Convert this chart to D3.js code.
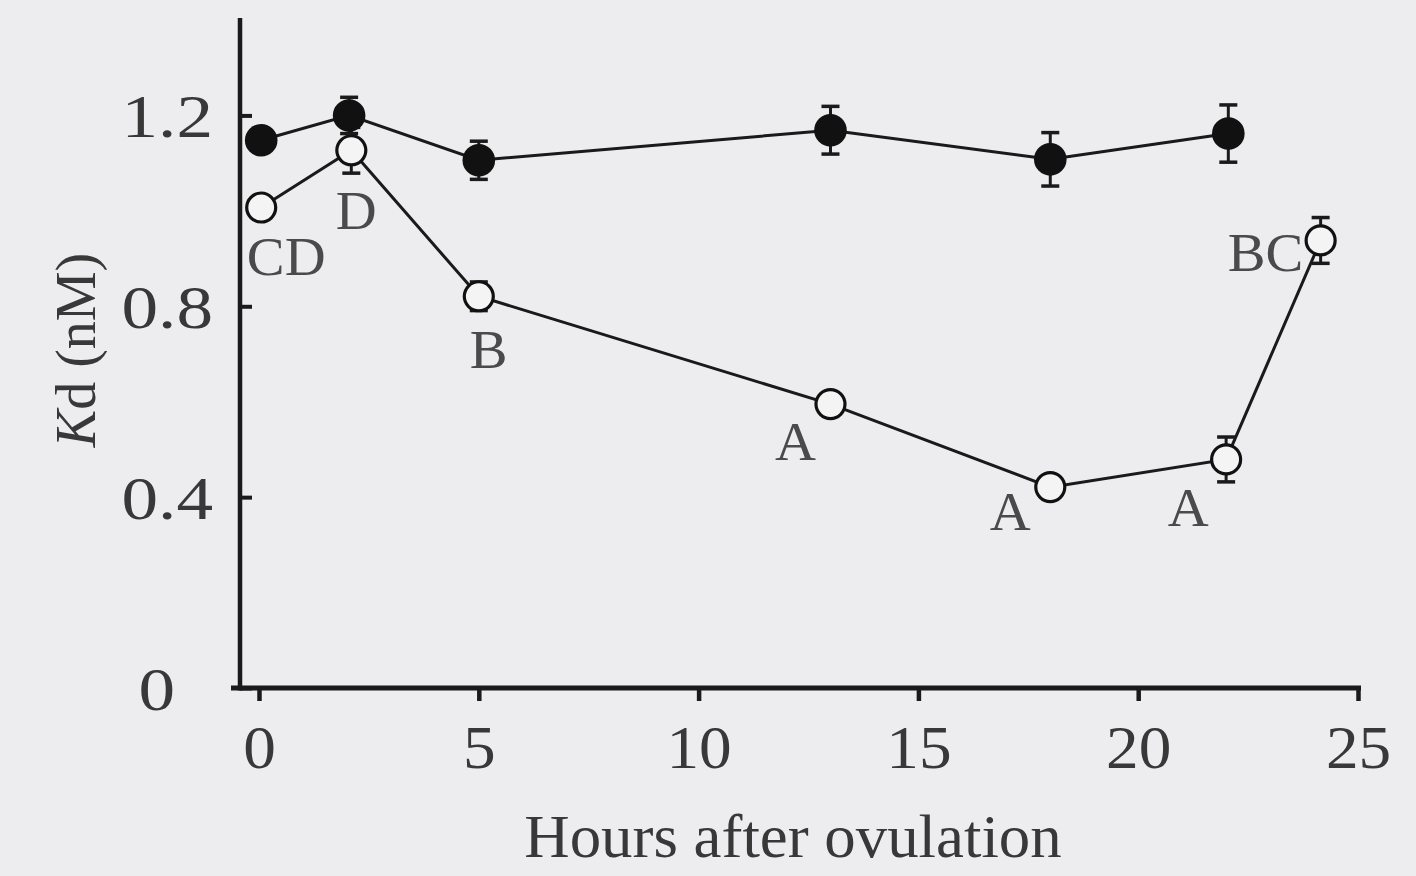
<!DOCTYPE html>
<html>
<head>
<meta charset="utf-8">
<script src="https://cdn.jsdelivr.net/npm/d3@7/dist/d3.min.js"></script>
<style>
  html, body { margin: 0; padding: 0; background: #edecee; }
  svg { display: block; }
  text { font-family: "Liberation Serif", "DejaVu Serif", serif; }
</style>
</head>
<body>
<svg id="chart" width="1416" height="876"></svg>
<script>
// Hours after ovulation at which Kd was measured
const hours = [0.05, 2.05, 5, 13, 18, 22.05];
const hoursOpen = [0.05, 2.1, 5, 13, 18, 22, 24.15];

// Filled circles: Kd (nM) mean and SEM
const kdFilled = [1.148, 1.200, 1.106, 1.169, 1.108, 1.162];
const semFilled = [0.02, 0.038, 0.04, 0.05, 0.056, 0.06];

// Open circles: Kd (nM) mean and SEM, with significance letters
const kdOpen = [1.007, 1.127, 0.821, 0.595, 0.421, 0.479, 0.938];
const semOpen = [0.02, 0.048, 0.03, 0.02, 0.02, 0.047, 0.048];
const letters = ["CD", "D", "B", "A", "A", "A", "BC"];

const xTicks = [0, 5, 10, 15, 20, 25];
const yTicks = [0, 0.4, 0.8, 1.2];
const yTickLabels = ["0", "0.4", "0.8", "1.2"];

const svg = d3.select("#chart");
const x = d3.scaleLinear().domain([0, 25]).range([259, 1358]);
const y = d3.scaleLinear().domain([0, 1.4]).range([688, 20]);

const axisColor = "#1a1a1a";
const textColor = "#383838";

// stretch a text element horizontally by a factor
function widen(sel, k) {
  sel.each(function () {
    const len = this.getComputedTextLength();
    d3.select(this).attr("textLength", len * k).attr("lengthAdjust", "spacingAndGlyphs");
  });
}

// axis lines
svg.append("line").attr("x1", 240).attr("x2", 240)
  .attr("y1", y(1.4) - 2).attr("y2", y(0) + 2.5)
  .attr("stroke", axisColor).attr("stroke-width", 4.5);
svg.append("line").attr("x1", 231).attr("x2", x(25) + 3)
  .attr("y1", y(0)).attr("y2", y(0))
  .attr("stroke", axisColor).attr("stroke-width", 5);

// y axis: ticks point inward
const yAxis = d3.axisLeft(y).tickValues(yTicks)
  .tickFormat((d, i) => yTickLabels[i])
  .tickSizeInner(-12).tickSizeOuter(0).tickPadding(27);
const gy = svg.append("g").attr("transform", "translate(240,0)").call(yAxis);
gy.select(".domain").remove();
gy.selectAll(".tick line").attr("stroke", axisColor).attr("stroke-width", 4);
gy.selectAll(".tick text").attr("fill", textColor)
  .attr("font-size", 61).attr("font-family", "Liberation Serif")
  .attr("dy", "0.35em")
  .attr("x", d => d === 0 ? -65 : -27)
  .call(widen, 1.2);

// x axis
const xAxis = d3.axisBottom(x).tickValues(xTicks)
  .tickSizeInner(13).tickSizeOuter(0).tickPadding(24);
const gx = svg.append("g").attr("transform", `translate(0,${y(0)})`).call(xAxis);
gx.select(".domain").remove();
gx.selectAll(".tick line").attr("stroke", axisColor).attr("stroke-width", 4.5);
gx.selectAll(".tick text").attr("fill", textColor)
  .attr("font-size", 61).attr("font-family", "Liberation Serif")
  .call(widen, 1.07);

// axis titles
svg.append("text").attr("x", 793).attr("y", 857)
  .attr("text-anchor", "middle").attr("fill", textColor)
  .attr("font-size", 61).text("Hours after ovulation")
  .call(widen, 1.03);

const yt = svg.append("text")
  .attr("transform", "translate(95,350) rotate(-90)")
  .attr("text-anchor", "middle").attr("fill", textColor)
  .attr("font-size", 56);
yt.append("tspan").attr("font-style", "italic").text("K");
yt.append("tspan").text("d (nM)");

const filled = hours.map((h, i) => ({ h, v: kdFilled[i], e: semFilled[i] }));
const open = hoursOpen.map((h, i) => ({ h, v: kdOpen[i], e: semOpen[i], l: letters[i] }));

const line = d3.line().x(d => x(d.h)).y(d => y(d.v));
const r = 14.5;

function drawSeries(data, fill) {
  svg.append("path").datum(data).attr("d", line)
    .attr("fill", "none").attr("stroke", "#1a1a1a").attr("stroke-width", 3);
  const g = svg.append("g");
  const eb = g.selectAll("g.eb").data(data).join("g").attr("class", "eb");
  eb.append("line")
    .attr("x1", d => x(d.h)).attr("x2", d => x(d.h))
    .attr("y1", d => y(d.v + d.e)).attr("y2", d => y(d.v - d.e))
    .attr("stroke", "#1a1a1a").attr("stroke-width", 3);
  [1, -1].forEach(s => {
    eb.append("line")
      .attr("x1", d => x(d.h) - 9).attr("x2", d => x(d.h) + 9)
      .attr("y1", d => y(d.v + s * d.e)).attr("y2", d => y(d.v + s * d.e))
      .attr("stroke", "#1a1a1a").attr("stroke-width", 3.5);
  });
  g.selectAll("circle").data(data).join("circle")
    .attr("cx", d => x(d.h)).attr("cy", d => y(d.v))
    .attr("r", fill ? r + 1.8 : r)
    .attr("fill", fill ? "#111" : "#f4f4f5")
    .attr("stroke", "#111").attr("stroke-width", fill ? 0 : 3.2);
}

drawSeries(open, false);
drawSeries(filled, true);

// significance letters next to open circles
const labelOffsets = [[25, 67], [5, 79], [10, 72], [-35, 56], [-40, 43], [-38, 67], [-55, 31]];
svg.append("g").selectAll("text").data(open).join("text")
  .attr("x", (d, i) => x(d.h) + labelOffsets[i][0])
  .attr("y", (d, i) => y(d.v) + labelOffsets[i][1])
  .attr("text-anchor", "middle").attr("fill", "#4a4a4a")
  .attr("font-size", 54).text(d => d.l)
  .call(widen, 1.05);
</script>
</body>
</html>
